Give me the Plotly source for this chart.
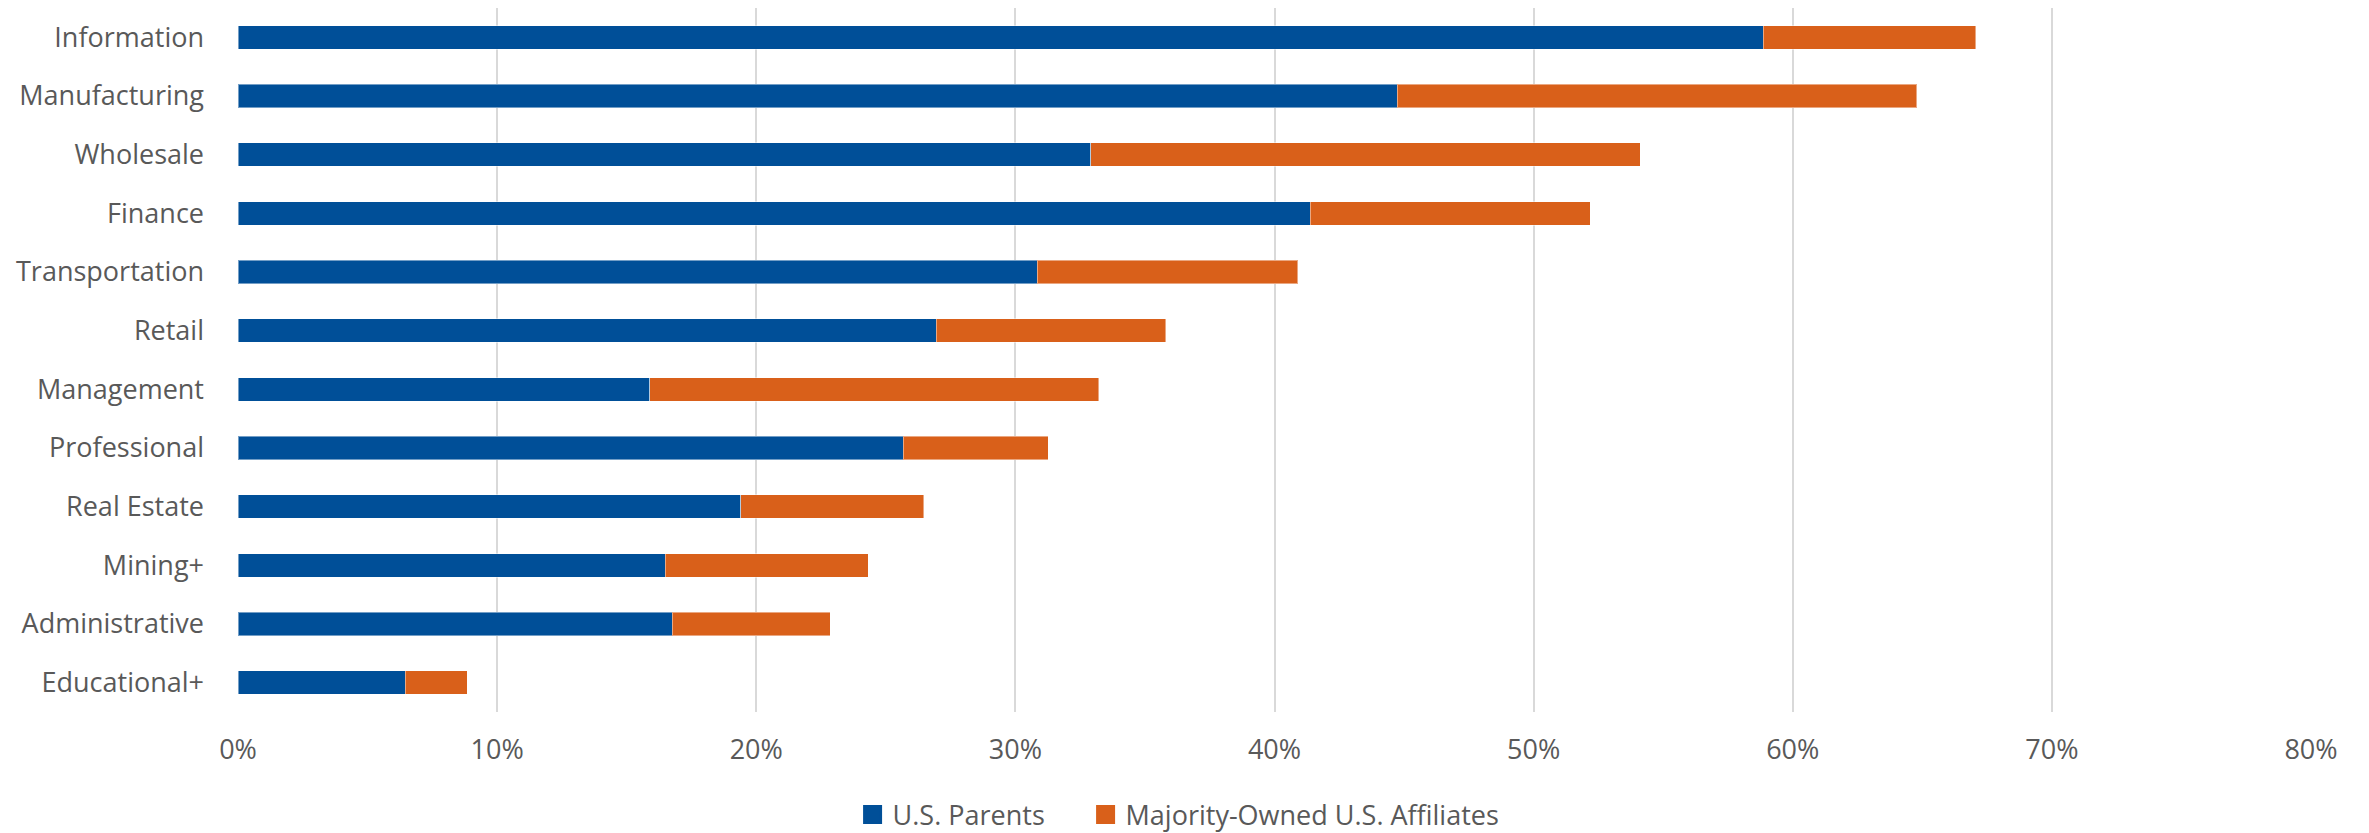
import plotly.graph_objects as go

categories = ["Information", "Manufacturing", "Wholesale", "Finance", "Transportation",
              "Retail", "Management", "Professional", "Real Estate", "Mining+",
              "Administrative", "Educational+"]
us_parents = [0.5887, 0.4473, 0.3290, 0.4138, 0.3085, 0.2695, 0.1589, 0.2567, 0.1941, 0.1648, 0.1675, 0.0646]
totals = [0.6706, 0.6479, 0.5412, 0.5219, 0.4089, 0.3581, 0.3321, 0.3126, 0.2646, 0.2433, 0.2286, 0.0884]
affiliates = [round(t - p, 4) for t, p in zip(totals, us_parents)]
x_ticks = [0, 0.1, 0.2, 0.3, 0.4, 0.5, 0.6, 0.7, 0.8]
series_names = ["U.S. Parents", "Majority-Owned U.S. Affiliates"]

BLUE = "#004F98"
ORANGE = "#D9601A"
TEXT = "#595959"
FONT = "Open Sans"
FS = 27

fig = go.Figure()
fig.add_trace(go.Bar(y=categories, x=us_parents, orientation="h", name=series_names[0],
                     marker=dict(color=BLUE, line=dict(color="rgba(255,255,255,0.45)", width=1)),
                     showlegend=False))
fig.add_trace(go.Bar(y=categories, x=affiliates, orientation="h", name=series_names[1],
                     marker=dict(color=ORANGE, line=dict(color="rgba(255,255,255,0.45)", width=1)),
                     showlegend=False))
# legend entries
legend_widths = [188, None]
for nm, col, lw in zip(series_names, [BLUE, ORANGE], legend_widths):
    kw = dict(legendwidth=lw) if lw else {}
    fig.add_trace(go.Scatter(x=[None], y=[None], mode="markers", name=nm,
                             marker=dict(symbol="square", size=16, color=col,
                                         line=dict(color=col, width=3)), **kw))

fig.update_layout(
    width=2361, height=825,
    barmode="stack", bargap=0.6,
    plot_bgcolor="white", paper_bgcolor="white",
    margin=dict(l=230, r=58, t=0, b=121),
    font=dict(family=FONT, size=FS, color=TEXT),
    xaxis=dict(range=[0, 0.8], tickvals=x_ticks, tickformat=".0%", showgrid=True,
               gridcolor="#D9D9D9", gridwidth=1.5, zeroline=False, showline=False,
               ticklabelstandoff=19, tickfont=dict(size=FS, color=TEXT)),
    yaxis=dict(autorange="reversed", showgrid=False, zeroline=False, showline=False,
               ticklabelstandoff=33, tickfont=dict(size=FS, color=TEXT)),
    legend=dict(orientation="h", xref="container", yref="container", x=0.4958, xanchor="center",
                y=0.022, yanchor="middle", font=dict(size=FS, color=TEXT),
                traceorder="normal", itemsizing="trace", itemwidth=30),
)

fig.write_html("out.html")
